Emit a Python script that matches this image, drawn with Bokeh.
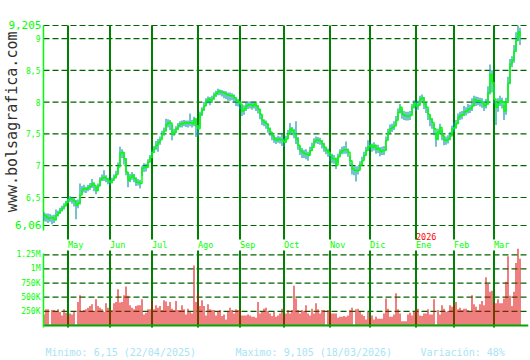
import math
from bokeh.plotting import figure
from bokeh.models import Range1d, Label, LabelSet, ColumnDataSource
from bokeh.core.properties import value
from bokeh.embed import file_html
from bokeh.resources import INLINE

# ---------------- data ----------------
close = [
    6.22, 6.19, 6.17, 6.18, 6.18, 6.15, 6.22, 6.26, 6.30, 6.33,
    6.37, 6.42, 6.47, 6.48, 6.46, 6.44, 6.38, 6.41, 6.54, 6.63,
    6.64, 6.63, 6.66, 6.68, 6.72, 6.69, 6.61, 6.68, 6.78, 6.81,
    6.82, 6.79, 6.76, 6.74, 6.77, 6.82, 6.86, 6.98, 7.20, 7.21,
    7.11, 6.90, 6.77, 6.82, 6.85, 6.80, 6.74, 6.74, 6.72, 6.96,
    6.98, 6.97, 7.06, 7.13, 7.21, 7.27, 7.32, 7.37, 7.41, 7.50,
    7.55, 7.65, 7.68, 7.67, 7.50, 7.53, 7.58, 7.63, 7.66, 7.66,
    7.68, 7.67, 7.67, 7.68, 7.66, 7.73, 7.63, 7.58, 7.81, 7.88,
    7.94, 8.02, 8.05, 8.02, 8.05, 8.11, 8.14, 8.17, 8.16, 8.15,
    8.14, 8.12, 8.11, 8.10, 8.10, 8.07, 8.02, 8.00, 7.97, 7.86,
    7.89, 7.94, 7.96, 7.96, 7.94, 7.97, 7.94, 7.89, 7.81, 7.71,
    7.68, 7.66, 7.58, 7.53, 7.47, 7.42, 7.40, 7.42, 7.41, 7.40,
    7.37, 7.42, 7.50, 7.58, 7.55, 7.50, 7.42, 7.32, 7.24, 7.21,
    7.19, 7.18, 7.16, 7.24, 7.29, 7.38, 7.41, 7.40, 7.39, 7.34,
    7.29, 7.24, 7.21, 7.16, 7.11, 7.11, 7.01, 7.14, 7.21, 7.24,
    7.25, 7.25, 7.21, 7.08, 6.95, 6.93, 6.92, 6.93, 7.01, 7.08,
    7.16, 7.24, 7.30, 7.32, 7.29, 7.32, 7.26, 7.27, 7.22, 7.24,
    7.24, 7.40, 7.53, 7.58, 7.60, 7.63, 7.71, 7.84, 7.92, 7.81,
    7.79, 7.78, 7.78, 7.79, 7.92, 7.98, 7.94, 7.95, 8.05, 8.07,
    7.97, 7.92, 7.81, 7.73, 7.68, 7.58, 7.42, 7.53, 7.60, 7.47,
    7.40, 7.40, 7.42, 7.47, 7.58, 7.60, 7.66, 7.76, 7.79, 7.80,
    7.85, 7.86, 7.89, 7.90, 7.94, 8.04, 8.02, 8.02, 8.01, 7.99,
    7.94, 7.97, 8.15, 8.44, 8.31, 8.05, 7.92, 7.98, 8.02, 8.00,
    7.86, 8.00, 8.30, 8.60, 8.66, 8.80, 8.97, 9.105, 9.02,
]
high = [
    6.27, 6.25, 6.25, 6.24, 6.22, 6.23, 6.31, 6.29, 6.34, 6.37,
    6.41, 6.45, 6.50, 6.52, 6.51, 6.50, 6.46, 6.47, 6.72, 6.68,
    6.70, 6.67, 6.70, 6.73, 6.79, 6.74, 6.68, 6.72, 6.82, 6.86,
    6.93, 6.85, 6.81, 6.79, 6.81, 6.86, 6.92, 7.05, 7.30, 7.26,
    7.21, 7.12, 6.90, 6.87, 6.90, 6.87, 6.82, 6.79, 6.78, 6.99,
    7.04, 7.03, 7.10, 7.17, 7.25, 7.31, 7.39, 7.42, 7.46, 7.55,
    7.60, 7.74, 7.73, 7.72, 7.65, 7.58, 7.62, 7.67, 7.70, 7.71,
    7.72, 7.71, 7.71, 7.82, 7.72, 7.77, 7.75, 7.64, 7.85, 7.92,
    8.00, 8.06, 8.09, 8.08, 8.10, 8.15, 8.18, 8.21, 8.20, 8.19,
    8.18, 8.17, 8.15, 8.15, 8.14, 8.12, 8.08, 8.05, 8.03, 7.95,
    7.95, 7.99, 8.01, 8.01, 7.99, 8.01, 7.99, 7.95, 7.89, 7.80,
    7.73, 7.71, 7.66, 7.60, 7.53, 7.48, 7.45, 7.47, 7.46, 7.50,
    7.43, 7.47, 7.56, 7.67, 7.61, 7.58, 7.70, 7.45, 7.31, 7.28,
    7.25, 7.26, 7.22, 7.30, 7.36, 7.43, 7.46, 7.45, 7.44, 7.40,
    7.36, 7.30, 7.27, 7.22, 7.19, 7.17, 7.13, 7.19, 7.26, 7.30,
    7.31, 7.38, 7.27, 7.16, 7.04, 6.99, 6.99, 6.99, 7.07, 7.14,
    7.22, 7.30, 7.40, 7.37, 7.35, 7.37, 7.33, 7.33, 7.29, 7.30,
    7.31, 7.46, 7.58, 7.65, 7.66, 7.70, 7.78, 7.90, 7.97, 7.90,
    7.86, 7.85, 7.85, 7.86, 7.97, 8.03, 8.01, 8.02, 8.10, 8.12,
    8.08, 7.99, 7.90, 7.80, 7.75, 7.66, 7.52, 7.58, 7.66, 7.57,
    7.47, 7.46, 7.48, 7.53, 7.63, 7.68, 7.72, 7.82, 7.85, 7.86,
    7.94, 7.92, 7.97, 7.96, 8.06, 8.10, 8.09, 8.08, 8.07, 8.06,
    8.02, 8.05, 8.25, 8.59, 8.50, 8.24, 8.02, 8.06, 8.10, 8.07,
    7.96, 8.07, 8.40, 8.68, 8.72, 8.90, 9.10, 9.205, 9.17,
]
low = [
    6.13, 6.12, 6.10, 6.12, 6.08, 6.10, 6.14, 6.20, 6.24, 6.28,
    6.31, 6.36, 6.41, 6.43, 6.40, 6.36, 6.16, 6.33, 6.39, 6.55,
    6.58, 6.57, 6.60, 6.62, 6.65, 6.60, 6.55, 6.60, 6.68, 6.76,
    6.76, 6.74, 6.71, 6.70, 6.72, 6.77, 6.80, 6.88, 7.00, 7.12,
    7.02, 6.85, 6.66, 6.74, 6.78, 6.74, 6.68, 6.69, 6.64, 6.84,
    6.90, 6.91, 6.97, 7.05, 7.12, 7.20, 7.25, 7.22, 7.33, 7.42,
    7.47, 7.54, 7.60, 7.56, 7.40, 7.47, 7.51, 7.56, 7.60, 7.60,
    7.62, 7.61, 7.60, 7.62, 7.60, 7.62, 7.45, 7.46, 7.60, 7.78,
    7.86, 7.94, 7.98, 7.95, 7.99, 8.04, 8.08, 8.11, 8.11, 8.09,
    8.06, 8.05, 8.02, 8.02, 8.03, 7.99, 7.94, 7.93, 7.88, 7.78,
    7.80, 7.86, 7.89, 7.90, 7.88, 7.90, 7.86, 7.82, 7.73, 7.64,
    7.62, 7.58, 7.52, 7.47, 7.40, 7.36, 7.34, 7.36, 7.35, 7.31,
    7.30, 7.36, 7.42, 7.50, 7.48, 7.43, 7.34, 7.25, 7.17, 7.12,
    7.12, 7.10, 7.08, 7.17, 7.23, 7.31, 7.35, 7.34, 7.33, 7.27,
    7.22, 7.18, 7.14, 7.08, 7.04, 7.03, 6.95, 7.04, 7.14, 7.18,
    7.19, 7.19, 7.14, 7.01, 6.86, 6.85, 6.75, 6.86, 6.94, 7.01,
    7.09, 7.17, 7.23, 7.25, 7.22, 7.24, 7.19, 7.20, 7.15, 7.17,
    7.17, 7.24, 7.41, 7.50, 7.53, 7.56, 7.62, 7.72, 7.82, 7.74,
    7.72, 7.71, 7.71, 7.72, 7.80, 7.90, 7.86, 7.88, 7.96, 8.00,
    7.89, 7.83, 7.72, 7.62, 7.58, 7.48, 7.30, 7.40, 7.50, 7.40,
    7.32, 7.33, 7.35, 7.40, 7.46, 7.53, 7.58, 7.66, 7.72, 7.73,
    7.78, 7.79, 7.82, 7.83, 7.86, 7.94, 7.94, 7.95, 7.93, 7.91,
    7.86, 7.90, 7.96, 8.12, 8.15, 7.98, 7.64, 7.85, 7.94, 7.90,
    7.72, 7.80, 8.02, 8.28, 8.55, 8.62, 8.80, 8.96, 8.90,
]
volume_k = [
    196, 286, 286, 18, 274, 274, 238, 286, 238, 179,
    286, 226, 155, 214, 196, 256, 18, 417, 536, 256,
    274, 286, 315, 345, 375, 256, 464, 345, 315, 286,
    238, 393, 315, 274, 274, 393, 417, 643, 405, 417,
    536, 690, 524, 357, 315, 286, 345, 357, 357, 464,
    196, 226, 286, 286, 435, 286, 357, 315, 345, 274,
    446, 423, 345, 417, 298, 274, 435, 274, 274, 357,
    286, 196, 298, 238, 214, 1060, 417, 571, 345, 446,
    345, 179, 375, 286, 274, 274, 179, 256, 274, 167,
    196, 107, 256, 315, 274, 214, 286, 274, 286, 179,
    179, 179, 196, 179, 155, 155, 137, 417, 214, 238,
    298, 315, 256, 214, 167, 238, 155, 179, 214, 298,
    179, 214, 274, 214, 274, 702, 476, 274, 214, 274,
    256, 357, 214, 179, 298, 214, 393, 286, 214, 274,
    274, 18, 274, 256, 214, 214, 214, 137, 155, 155,
    167, 155, 179, 274, 315, 18, 286, 298, 238, 196,
    167, 107, 238, 137, 179, 107, 155, 119, 119, 119,
    214, 476, 298, 155, 155, 196, 571, 286, 214, 77,
    77, 77, 196, 226, 179, 238, 274, 298, 179, 167,
    214, 214, 286, 196, 196, 464, 18, 274, 196, 357,
    298, 238, 256, 357, 333, 357, 417, 286, 315, 274,
    298, 298, 274, 238, 536, 375, 333, 274, 375, 435,
    357, 851, 732, 595, 613, 400, 393, 464, 393, 393,
    476, 774, 1226, 524, 345, 595, 1107, 1357, 1179,
]
volume = [v * 1000 for v in volume_k]
idx = list(range(len(close)))

month_names = ["May", "Jun", "Jul", "Ago", "Sep", "Oct", "Nov", "Dic", "Ene", "Feb", "Mar"]
month_idx = [12, 33, 54, 77, 98, 120, 143, 163, 186, 205, 225]
year_label = "2026"
year_idx = 186

price_ticks = [6.5, 7, 7.5, 8, 8.5, 9]
price_tick_labels = ["6,5", "7", "7,5", "8", "8,5", "9"]
price_ends = [6.06, 9.205]
price_end_labels = ["6,06", "9,205"]

vol_ticks = [250000, 500000, 750000, 1000000, 1250000]
vol_tick_labels = ["250K", "500K", "750K", "1M", "1.25M"]

min_text = "Minimo: 6,15 (22/04/2025)"
max_text = "Maximo: 9,105 (18/03/2026)"
var_text = "Variación: 48%"
site_text = "www.bolsagrafica.com"

# ---------------- styles / layout constants ----------------
MONO = "DejaVu Sans Mono"
BRIGHT = "#00FF00"
GRID_DASH = "#006400"
MONTH_LINE = "#008000"
TEAL = "#1898B0"
GREEN = "#00FF00"
RED = "#E00000"
CYAN_TXT = "#A8E4F4"

XR = (-21.75, 242.25)                    # whole canvas width in index units (2 px per day)
X_LEFT, X_RIGHT = -0.25, 242.25          # plotting area edges
LABEL_X = -1.75                           # right edge of tick labels
P_BOT, P_TOP = 5.8397, 9.205             # extent of the month lines in the price panel
YEAR_Y = 5.887                            # vertical centre of the year mark
VOL_AXIS = (-35000, 1275000)             # extent of the volume axis line
VOL_TOP_LINE = 1326000                   # top of the month lines in the volume panel
m = len(month_idx)

# one frame covering the whole canvas: price on the default y range, volume on "vol"
p = figure(width=530, height=360, x_range=Range1d(*XR), y_range=Range1d(3.9369, 9.5981),
           output_backend="svg", toolbar_location=None,
           min_border_left=0, min_border_right=2, min_border_top=0, min_border_bottom=0,
           outline_line_color=None, background_fill_color="white", border_fill_color="white")
p.extra_y_ranges = {"vol": Range1d(-618800, 5746100)}
p.xaxis.visible = False
p.yaxis.visible = False
p.xgrid.visible = False
p.ygrid.visible = False

# ---- price panel ----
grid_levels = [price_ends[0]] + price_ticks + [price_ends[1]]
n = len(grid_levels)
p.segment(x0=[X_LEFT] * n, y0=grid_levels, x1=[X_RIGHT] * n, y1=grid_levels,
          line_color=GRID_DASH, line_width=1.2, line_dash="6 3")
p.segment(x0=month_idx, y0=[P_BOT] * m, x1=month_idx, y1=[P_TOP] * m,
          line_color=MONTH_LINE, line_width=2)
p.segment(x0=[X_LEFT], y0=[5.98], x1=[X_LEFT], y1=[P_TOP], line_color=BRIGHT, line_width=1.5)

p.segment(x0=idx, y0=low, x1=idx, y1=high, line_color=TEAL, line_width=1.2)
p.step(idx, close, mode="after", line_color=GREEN, line_width=1.5)

tsrc = ColumnDataSource(dict(x=[LABEL_X] * len(price_ticks), y=price_ticks, t=price_tick_labels))
p.add_layout(LabelSet(x="x", y="y", text="t", source=tsrc, text_align="right",
                      text_baseline="middle", text_font=value(MONO), text_font_size="8px",
                      text_color=BRIGHT))
esrc = ColumnDataSource(dict(x=[LABEL_X + 0.5] * 2, y=price_ends, t=price_end_labels))
p.add_layout(LabelSet(x="x", y="y", text="t", source=esrc, text_align="right",
                      text_baseline="middle", text_font=value(MONO), text_font_size="11px",
                      text_color=BRIGHT))

p.add_layout(Label(x=-15.9, y=7.69, text=site_text, angle=math.pi / 2,
                   text_align="center", text_baseline="middle",
                   text_font=MONO, text_font_size="15px", text_color="#303030"))

p.add_layout(Label(x=year_idx, y=YEAR_Y, text=year_label, text_align="left",
                   text_baseline="middle", text_font=MONO, text_font_size="8.5px",
                   text_color="#FF0000"))

# ---- volume panel ----
k = len(vol_ticks)
p.segment(x0=[X_LEFT] * k, y0=vol_ticks, x1=[X_RIGHT] * k, y1=vol_ticks, y_range_name="vol",
          line_color=GRID_DASH, line_width=1.2, line_dash="6 3")
p.segment(x0=month_idx, y0=[VOL_AXIS[0]] * m, x1=month_idx, y1=[VOL_TOP_LINE] * m,
          y_range_name="vol", line_color=MONTH_LINE, line_width=2)
p.vbar(x=idx, top=volume, bottom=0, width=0.5, y_range_name="vol",
       fill_color=RED, line_color=None)
p.segment(x0=[X_LEFT], y0=[0], x1=[X_RIGHT], y1=[0], y_range_name="vol",
          line_color="#00A800", line_width=2)
p.segment(x0=[X_LEFT], y0=[VOL_AXIS[0]], x1=[X_LEFT], y1=[VOL_AXIS[1]], y_range_name="vol",
          line_color=BRIGHT, line_width=1.5)

vsrc = ColumnDataSource(dict(x=[LABEL_X] * k, y=vol_ticks, t=vol_tick_labels))
p.add_layout(LabelSet(x="x", y="y", text="t", source=vsrc, y_range_name="vol",
                      text_align="right", text_baseline="middle", text_font=value(MONO),
                      text_font_size="8px", text_color=BRIGHT))

msrc = ColumnDataSource(dict(x=month_idx, y=[1423000] * m, t=month_names))
p.add_layout(LabelSet(x="x", y="y", text="t", source=msrc, y_range_name="vol",
                      text_align="left", text_baseline="middle", text_font=value(MONO),
                      text_font_size="8.5px", text_color=BRIGHT))

for xx, txt in [(0.75, min_text), (95.75, max_text), (188.25, var_text)]:
    p.add_layout(Label(x=xx, y=-472000, y_range_name="vol", text=txt, text_align="left",
                       text_baseline="middle", text_font=MONO, text_font_size="10px",
                       text_color=CYAN_TXT))

open("out.html", "w").write(file_html(p, INLINE))
